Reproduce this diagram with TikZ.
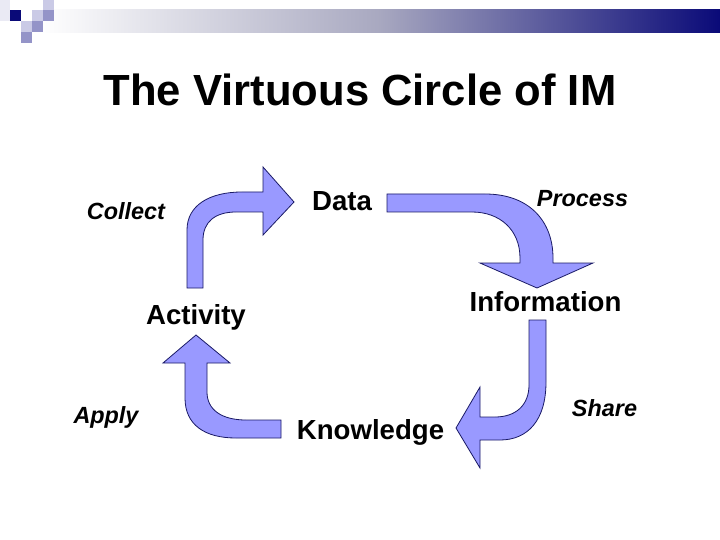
\documentclass[tikz,border=0pt]{standalone}
\usepackage{fontspec}
\setmainfont{Liberation Sans}
\definecolor{arrowfill}{HTML}{9999FF}
\definecolor{arrowline}{HTML}{1A1A66}
\definecolor{navy}{HTML}{0A0A78}
\definecolor{barmid}{HTML}{A8A8C0}
\definecolor{sqdark}{HTML}{0A0A78}
\definecolor{sqmed}{HTML}{9494C8}
\definecolor{sqlight}{HTML}{CACAE6}
\definecolor{sqfaint}{HTML}{EAEAF4}
\begin{document}
\begin{tikzpicture}[x=1pt,y=-1pt,
  bigarrow/.style={fill=arrowfill,draw=arrowline,line width=0.8pt,line join=miter},
  title/.style={font=\fontsize{43.6}{50}\selectfont\bfseries,anchor=base},
  stage/.style={font=\fontsize{27.6}{32}\selectfont\bfseries,anchor=base},
  action/.style={font=\fontsize{23.4}{28}\selectfont\bfseries\itshape,anchor=base}]
\useasboundingbox[fill=white] (0,0) rectangle (720,540);
% header bar
\shade[left color=white,right color=barmid] (40,10) rectangle (380,33);
\shade[left color=barmid,right color=navy] (379.5,10) rectangle (720,33);
% header squares
\fill[sqfaint] (0,0) rectangle (10,10);
\fill[sqfaint] (0,10) rectangle (10,21);
\fill[sqdark] (10,10) rectangle (21,21);
\fill[sqlight] (32,10) rectangle (43,21);
\fill[sqlight] (43,0) rectangle (54,10);
\fill[sqmed] (43,10) rectangle (54,21);
\fill[sqmed] (32,21) rectangle (43,32);
\fill[sqlight] (21,21) rectangle (32,32);
\fill[sqmed] (21,32) rectangle (32,43);
% title
\node[title] (title) at (360,106) {The Virtuous Circle of IM};
% stages
\node[stage] (data) at (342,211) {Data};
\node[stage] (info) at (545.5,311) {Information};
\node[stage] (know) at (370.5,439) {Knowledge};
\node[stage] (act) at (196,324) {Activity};
% actions
\node[action] (collect) at (126,219) {Collect};
\node[action] (process) at (582.5,207) {Process};
\node[action] (share) at (604.5,416) {Share};
\node[action] (apply) at (106,423) {Apply};
% arrow: collect
\draw[bigarrow] (187,288) -- (187,230)
  .. controls (187,205) and (210,192) .. (242,192) -- (263,192) -- (263,167)
  -- (294,202) -- (263,235) -- (263,212) -- (236,212)
  .. controls (215,212) and (203,222) .. (203,240) -- (203,288) -- cycle;
% arrow: process
\draw[bigarrow] (387,194) -- (485,194)
  .. controls (530,194) and (553,222) .. (553,258) -- (553,263) -- (593,263)
  -- (537,288) -- (480,263) -- (520,263) -- (520,258)
  .. controls (520,230) and (500,212) .. (472,212) -- (387,212) -- cycle;
% arrow: share
\draw[bigarrow] (529,320) -- (546,320) -- (546,382)
  .. controls (546,420) and (528,440) .. (500,440) -- (480,440) -- (480,468)
  -- (456,428) -- (480,387) -- (480,417) -- (495,417)
  .. controls (516,417) and (529,405) .. (529,385) -- cycle;
% arrow: apply
\draw[bigarrow] (196,335) -- (230,363) -- (207,363) -- (207,392)
  .. controls (207,410) and (222,420) .. (246,420) -- (281,420) -- (281,438)
  -- (236,438) .. controls (205,438) and (185,425) .. (185,398)
  -- (185,363) -- (163,363) -- cycle;
\end{tikzpicture}
\end{document}
